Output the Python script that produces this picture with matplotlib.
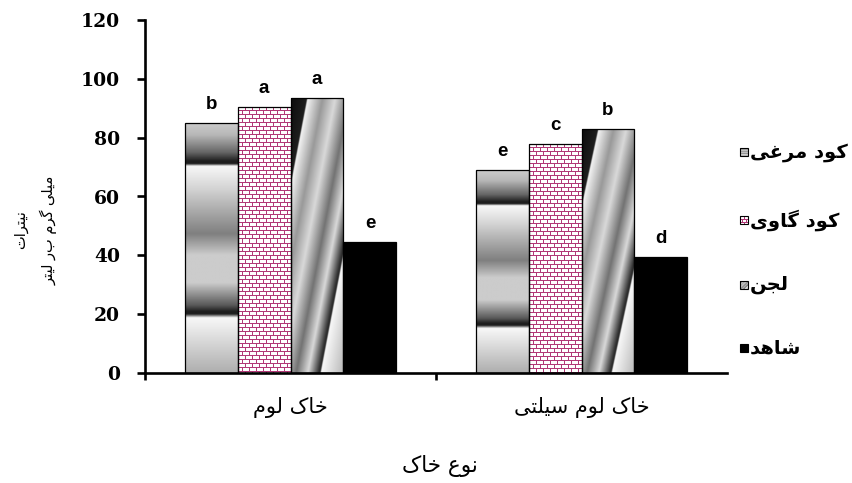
import numpy as np
import matplotlib
matplotlib.use('Agg')
from matplotlib import pyplot as plt
from matplotlib.patches import Rectangle

#%% data
soil_types = ['خاک لوم', 'خاک لوم سیلتی']
treatments = ['کود مرغی', 'کود گاوی', 'لجن', 'شاهد']
poultry = [85, 69]
cow = [90.5, 78]
sludge = [93.5, 83]
control = [44.5, 39.5]
poultry_sig = ['b', 'e']
cow_sig = ['a', 'c']
sludge_sig = ['a', 'b']
control_sig = ['e', 'd']
y_ticks = [0, 20, 40, 60, 80, 100, 120]
y_label = 'نیترات\nمیلی گرم بر لیتر'
x_label = 'نوع خاک'

#%% arabic shaping (matplotlib has no complex text layout)
FORMS = {
    'ا': '\uFE8D\uFE8E', 'د': '\uFEA9\uFEAA', 'ر': '\uFEAD\uFEAE', 'و': '\uFEED\uFEEE',
    'ت': '\uFE95\uFE96\uFE97\uFE98', 'ج': '\uFE9D\uFE9E\uFE9F\uFEA0',
    'خ': '\uFEA5\uFEA6\uFEA7\uFEA8', 'س': '\uFEB1\uFEB2\uFEB3\uFEB4',
    'ش': '\uFEB5\uFEB6\uFEB7\uFEB8', 'ع': '\uFEC9\uFECA\uFECB\uFECC',
    'غ': '\uFECD\uFECE\uFECF\uFED0', 'ل': '\uFEDD\uFEDE\uFEDF\uFEE0',
    'م': '\uFEE1\uFEE2\uFEE3\uFEE4', 'ن': '\uFEE5\uFEE6\uFEE7\uFEE8',
    'ه': '\uFEE9\uFEEA\uFEEB\uFEEC', 'ک': '\uFB8E\uFB8F\uFB90\uFB91',
    'گ': '\uFB92\uFB93\uFB94\uFB95', 'ی': '\uFBFC\uFBFD\uFBFE\uFBFF',
}

def dual(ch):
    return ch in FORMS and len(FORMS[ch]) == 4

def shape(text):
    lines = []
    for line in text.split('\n'):
        out = []
        for i, ch in enumerate(line):
            if ch not in FORMS:
                out.append(ch)
                continue
            prev = line[i-1] if i > 0 else ''
            nxt = line[i+1] if i + 1 < len(line) else ''
            jp = dual(prev)
            jn = dual(ch) and nxt in FORMS
            f = FORMS[ch]
            if jp and jn:
                out.append(f[3])
            elif jp:
                out.append(f[1])
            elif jn:
                out.append(f[2])
            else:
                out.append(f[0])
        lines.append(''.join(reversed(out)))
    return '\n'.join(lines)

#%% textures
def band_profile(n=600):
    t = np.linspace(0, 1, n)
    tn = [0, 0.05, 0.12, 0.155, 0.165, 0.175, 0.27, 0.445, 0.53, 0.64, 0.73, 0.755, 0.765, 0.78, 1.0]
    vn = [0.80, 0.72, 0.40, 0.12, 0.12, 0.97, 0.82, 0.50, 0.80, 0.80, 0.35, 0.12, 0.12, 0.97, 0.68]
    return np.interp(t, tn, vn)[:, None]

def diag_img(n=300):
    xf = np.linspace(0, 1, n)[None, :]
    hf = np.linspace(1, 0, n)[:, None]
    v = (xf - hf + 1) / 2
    vn = [0, 0.15, 0.16, 0.30, 0.42, 0.55, 0.66, 0.76, 0.775, 0.785, 1.0]
    gn = [0.05, 0.12, 0.95, 0.60, 0.85, 0.45, 0.85, 0.20, 0.15, 0.97, 0.72]
    return np.interp(v, vn, gn)

def brick_img(w, h, bw=7, bh=4):
    img = np.ones((h, w, 3))
    mortar = np.array([0.70, 0.22, 0.47])
    for r in range(h):
        if r % bh == 0:
            img[r, :] = mortar
            continue
        off = 0 if (r // bh) % 2 == 0 else bw // 2
        for c in range(w):
            if (c + off) % bw == 0:
                img[r, c] = mortar
    return img

#%% figure
fig = plt.figure(figsize=(8.53, 4.83), dpi=100)
ax = fig.add_axes([145/853, 110/483, 582/853, 353/483])
ax.set_xlim(-0.5, 1.5)
ax.set_ylim(0, 120)

x = np.arange(len(soil_types))
w = 0.182
series = [poultry, cow, sludge, control]
sigs = [poultry_sig, cow_sig, sludge_sig, control_sig]

for k, (vals, sig) in enumerate(zip(series, sigs)):
    pos = x + (k - 1.5) * w
    fc = 'black' if k == 3 else 'none'
    bars = ax.bar(pos, vals, w, facecolor=fc, edgecolor='black', linewidth=0.9, zorder=3)
    for b, s in zip(bars, sig):
        x0, x1 = b.get_x(), b.get_x() + b.get_width()
        h = b.get_height()
        if k == 0:
            im = ax.imshow(band_profile(), cmap='gray', vmin=0, vmax=1, aspect='auto',
                           extent=(x0, x1, 0, h), interpolation='bilinear', zorder=2)
            im.set_clip_path(b)
        elif k == 1:
            p0 = ax.transData.transform((x0, 0))
            p1 = ax.transData.transform((x1, h))
            img = brick_img(int(round(abs(p1[0] - p0[0]))), int(round(abs(p1[1] - p0[1]))))
            im = ax.imshow(img, aspect='auto', extent=(x0, x1, 0, h),
                           interpolation='none', zorder=2)
            im.set_clip_path(b)
        elif k == 2:
            im = ax.imshow(diag_img(), cmap='gray', vmin=0, vmax=1, aspect='auto',
                           extent=(x0, x1, 0, h), interpolation='bilinear', zorder=2)
            im.set_clip_path(b)
        ax.annotate(s, (b.get_x() + b.get_width()/2, h), xytext=(0, 7),
                    textcoords='offset points', ha='center', va='bottom',
                    fontsize=13.5, fontweight='bold', family='Liberation Sans')

ax.set_xlim(-0.5, 1.5)
ax.set_ylim(0, 120)

for sp in ['top', 'right']:
    ax.spines[sp].set_visible(False)
for sp in ['left', 'bottom']:
    ax.spines[sp].set_linewidth(1.9)

ax.set_yticks(y_ticks)
ax.set_yticklabels([str(v) for v in y_ticks], family='DejaVu Serif',
                   fontweight='bold', fontsize=13.5)
ax.tick_params(axis='y', direction='out', length=6, width=1.9, pad=12)

ax.set_xticks(x)
ax.set_xticklabels([shape(s) for s in soil_types], family='DejaVu Sans', fontsize=15)
ax.tick_params(axis='x', which='major', length=0, pad=17)
ax.set_xticks([-0.5, 0.5], minor=True)
ax.tick_params(axis='x', which='minor', direction='out', length=5, width=1.9)

#%% labels and legend in pixel coords
ov = fig.add_axes([0, 0, 1, 1])
ov.set_xlim(0, 853)
ov.set_ylim(483, 0)
ov.axis('off')

ov.text(440, 466, shape(x_label), ha='center', va='center', fontsize=15.5,
        family='DejaVu Sans')
ov.text(35, 230, shape(y_label), ha='center', va='center', rotation=90,
        fontsize=10.5, family='DejaVu Sans', linespacing=1.9)

rows = [152, 220, 285, 348]
for k, (name, yy) in enumerate(zip(treatments, rows)):
    ext = (740, 748, yy + 4, yy - 4)
    if k == 0:
        ov.imshow(band_profile(16), cmap='gray', vmin=0, vmax=1,
                  aspect='auto', extent=ext, interpolation='bilinear')
    elif k == 1:
        ov.imshow(brick_img(8, 8, bw=4, bh=3), aspect='auto', extent=ext,
                  interpolation='nearest')
    elif k == 2:
        ov.imshow(diag_img(16), cmap='gray', vmin=0, vmax=1, aspect='auto',
                  extent=ext, interpolation='bilinear')
    fc = 'black' if k == 3 else 'none'
    ov.add_patch(Rectangle((740, yy - 4), 8, 8, facecolor=fc, edgecolor='black',
                           linewidth=0.8))
    ov.text(750, yy, shape(name), ha='left', va='center', fontsize=14,
            family='DejaVu Sans', fontweight='bold')

ov.set_xlim(0, 853)
ov.set_ylim(483, 0)

fig.savefig('out.png', dpi=100)
